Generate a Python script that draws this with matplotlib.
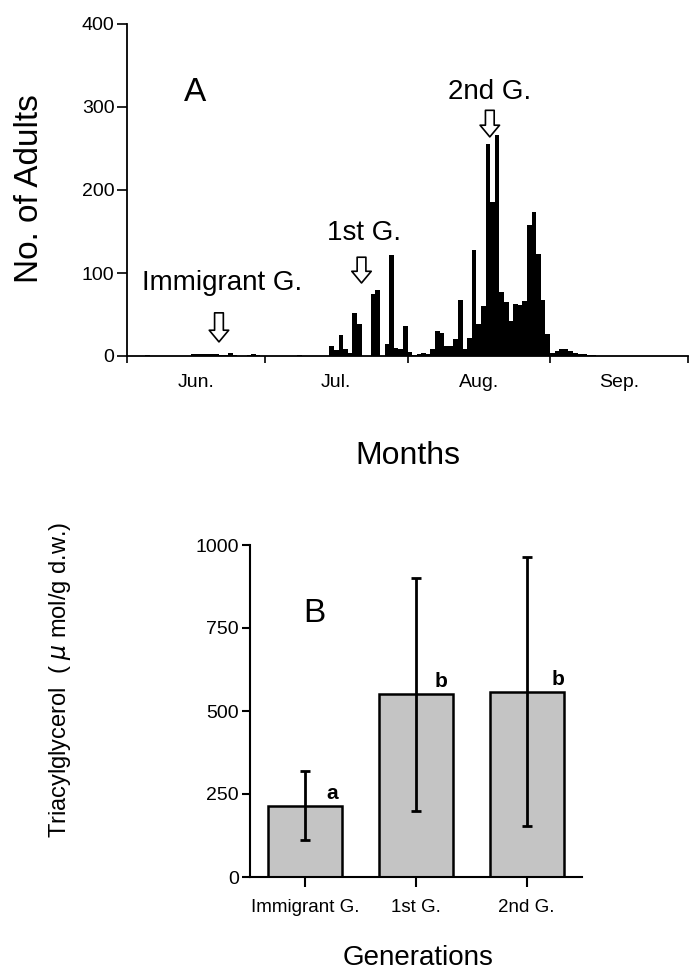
import matplotlib
matplotlib.use("Agg")
import matplotlib.pyplot as plt
import numpy as np

plt.rcParams['font.family'] = ['Liberation Sans', 'DejaVu Sans']

# panel A: daily catch, day 0 = Jun 1
day = [4, 14, 15, 16, 17, 18, 19, 20, 21, 22, 23, 26, 27, 28, 37,
       44, 45, 46, 47, 48, 49, 50, 53, 54, 56, 57, 58, 59, 60, 61, 62,
       63, 64, 65, 66, 67, 68, 69, 70, 71, 72, 73, 74, 75, 76, 77, 78,
       79, 80, 81, 82, 83, 84, 85, 86, 87, 88, 89, 90, 91, 92, 93, 94,
       95, 96, 97, 98, 99, 100, 101]
adults = [1, 2, 3, 3, 3, 3, 2, 1, 1, 4, 1, 1, 2, 1, 1,
          12, 7, 25, 8, 4, 52, 39, 75, 80, 15, 122, 10, 9, 36, 5, 1,
          2, 4, 2, 9, 30, 28, 12, 12, 21, 67, 9, 22, 128, 38, 60, 255,
          185, 266, 77, 65, 42, 63, 62, 66, 158, 174, 123, 67, 26, 4, 6, 9,
          8, 6, 4, 3, 2, 1, 1]
month_starts = [0, 30, 61, 92, 122]
month_mid = [15, 45.5, 76.5, 107]
month_labels = ['Jun.', 'Jul.', 'Aug.', 'Sep.']

# panel B
generations = ['Immigrant G.', '1st G.', '2nd G.']
tag = [215, 550, 558]
tag_sd = [105, 352, 405]
letters = ['a', 'b', 'b']

W, H = 690, 974
fig = plt.figure(figsize=(W / 100, H / 100), dpi=100)

# ---------------- A ----------------
axA = fig.add_axes([127 / W, 1 - 356 / H, (688 - 127) / W, (356 - 24) / H])
axA.bar(np.array(day) + 0.5, adults, width=1.0, color='black', linewidth=0)
axA.set_xlim(0, 122)
axA.set_ylim(0, 400)
axA.set_yticks([0, 100, 200, 300, 400])
axA.set_xticks(month_starts)
axA.set_xticklabels([])
axA.set_xticks(month_mid, minor=True)
axA.set_xticklabels(month_labels, minor=True, fontsize=14)
axA.tick_params(axis='x', which='minor', length=0, pad=13)
axA.tick_params(axis='x', which='major', length=5, width=1.2, direction='out')
axA.tick_params(axis='y', length=7, width=1.2, labelsize=14, pad=2)
for s in ['top', 'right']:
    axA.spines[s].set_visible(False)
for s in ['left', 'bottom']:
    axA.spines[s].set_linewidth(1.3)

arrow_kw = dict(arrowstyle='simple,head_length=0.6,head_width=1.0,tail_width=0.45',
                fc='white', ec='black', lw=1.2, shrinkA=0, shrinkB=0,
                mutation_scale=14)
axA.annotate('', xy=(78.9, 264), xytext=(78.9, 296), arrowprops=arrow_kw)
axA.annotate('', xy=(51, 88), xytext=(51, 119), arrowprops=arrow_kw)
axA.annotate('', xy=(20, 17), xytext=(20, 52), arrowprops=arrow_kw)
axA.text(78.9, 318, '2nd G.', ha='center', va='center', fontsize=20)
axA.text(51.5, 148, '1st G.', ha='center', va='center', fontsize=20)
axA.text(20.7, 88, 'Immigrant G.', ha='center', va='center', fontsize=20)
axA.text(14.7, 318, 'A', ha='center', va='center', fontsize=24)

fig.text(30 / W, 1 - 189 / H, 'No. of Adults', rotation=90, ha='center', va='center', fontsize=24)
fig.text(408 / W, 1 - 456 / H, 'Months', ha='center', va='center', fontsize=23)

# ---------------- B ----------------
axB = fig.add_axes([250 / W, 1 - 877 / H, (582 - 250) / W, (877 - 545) / H])
x = np.arange(len(generations))
axB.bar(x, tag, width=0.67, color='#c4c4c4', edgecolor='black', linewidth=1.8, zorder=2)
axB.errorbar(x, tag, yerr=tag_sd, fmt='none', ecolor='black', elinewidth=2,
             capsize=3.8, capthick=2, zorder=3)
letter_dx = [0.24, 0.23, 0.28]
for i, l in enumerate(letters):
    axB.text(x[i] + letter_dx[i], tag[i] + 38, l, ha='center', va='center',
             fontsize=15, fontweight='bold')
axB.text(0.084, 795, 'B', ha='center', va='center', fontsize=24)
axB.set_xlim(-0.5, 2.5)
axB.set_ylim(0, 1000)
axB.set_yticks([0, 250, 500, 750, 1000])
axB.set_xticks(x)
axB.set_xticklabels(generations, fontsize=13.5)
axB.tick_params(axis='x', length=7, width=1.5, pad=9)
axB.tick_params(axis='y', length=6, width=1.5, labelsize=14, pad=2)
for s in ['top', 'right']:
    axB.spines[s].set_visible(False)
for s in ['left', 'bottom']:
    axB.spines[s].set_linewidth(1.5)

fig.text(60 / W, 1 - 680 / H, 'Triacylglycerol  ( $\\mu$ mol/g d.w.)', rotation=90,
         ha='center', va='center', fontsize=17)
fig.text(418 / W, 1 - 958 / H, 'Generations', ha='center', va='center', fontsize=20)

fig.savefig('out.png', dpi=100)
